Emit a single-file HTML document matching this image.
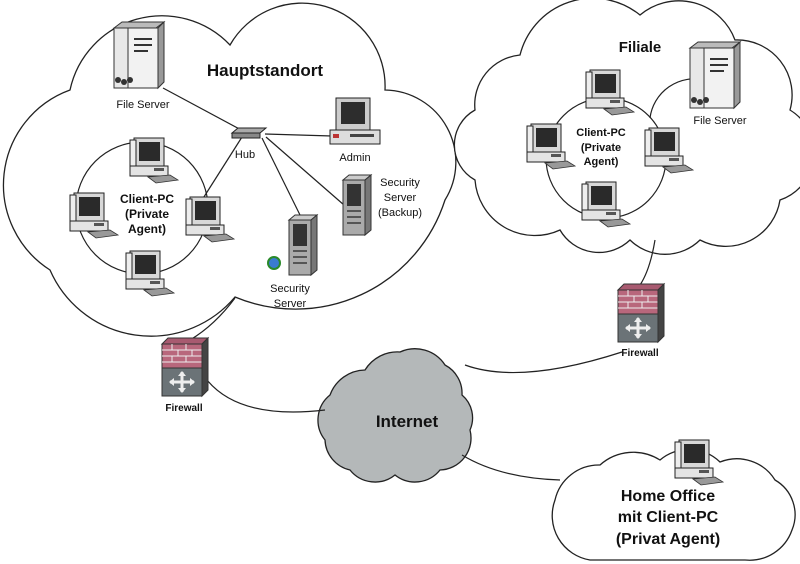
<!DOCTYPE html>
<html><head><meta charset="utf-8"><style>
html,body{margin:0;padding:0;background:#fff}
svg{display:block}
text{font-family:"Liberation Sans",sans-serif;fill:#111}
.b{font-weight:bold}
</style></head><body>
<svg width="800" height="564" viewBox="0 0 800 564" xmlns="http://www.w3.org/2000/svg">
<defs>
<g id="pc">
  <rect x="4" y="0" width="30" height="28" fill="#d8d8d8" stroke="#222" stroke-width="1"/>
  <rect x="0" y="2" width="6" height="26" fill="#eee" stroke="#222" stroke-width="1"/>
  <rect x="9" y="4" width="21" height="19" fill="#2a2a2a"/>
  <rect x="0" y="28" width="38" height="10" fill="#e4e4e4" stroke="#222" stroke-width="1"/>
  <rect x="24" y="30" width="10" height="3" fill="#555"/>
  <polygon points="18,39 40,37 48,42 26,45" fill="#999" stroke="#333" stroke-width="0.8"/>
</g>
<g id="srv">
  <polygon points="0,6 8,0 50,0 42,6" fill="#bbb" stroke="#333" stroke-width="1"/>
  <rect x="0" y="6" width="14" height="60" fill="#e8e8e8" stroke="#333" stroke-width="1"/>
  <rect x="14" y="6" width="30" height="60" fill="#f2f2f2" stroke="#333" stroke-width="1"/>
  <polygon points="44,6 50,0 50,60 44,66" fill="#999" stroke="#333" stroke-width="1"/>
  <rect x="20" y="16" width="18" height="2" fill="#333"/>
  <rect x="20" y="22" width="18" height="2" fill="#333"/>
  <rect x="20" y="28" width="14" height="2" fill="#333"/>
  <circle cx="4" cy="58" r="3" fill="#333"/><circle cx="10" cy="60" r="3" fill="#333"/><circle cx="16" cy="58" r="3" fill="#333"/>
</g>
<g id="tower">
  <polygon points="0,5 6,0 28,0 22,5" fill="#ccc" stroke="#333"/>
  <rect x="0" y="5" width="22" height="55" fill="#aaa" stroke="#333"/>
  <polygon points="22,5 28,0 28,55 22,60" fill="#777" stroke="#333"/>
  <rect x="4" y="9" width="14" height="22" fill="#333"/>
  <rect x="4" y="35" width="14" height="2" fill="#555"/>
  <rect x="4" y="41" width="14" height="2" fill="#555"/>
  <rect x="4" y="47" width="14" height="2" fill="#555"/>
</g>
<g id="fw">
  <polygon points="0,6 6,0 46,0 40,6" fill="#a85a70" stroke="#333"/>
  <rect x="0" y="6" width="40" height="24" fill="#b8677c" stroke="#333"/>
  <path d="M0,12H40M0,18H40M0,24H40M10,6V12M24,6V12M16,12V18M30,12V18M10,18V24M24,18V24" stroke="#eee" stroke-width="1"/>
  <rect x="0" y="30" width="40" height="28" fill="#6b7377" stroke="#333"/>
  <polygon points="40,6 46,0 46,52 40,58" fill="#444" stroke="#333"/>
  <path d="M20,34V54M8,44H32" stroke="#eee" stroke-width="3"/>
  <polygon points="20,33 16,38 24,38" fill="#eee"/><polygon points="20,55 16,50 24,50" fill="#eee"/>
  <polygon points="7,44 12,40 12,48" fill="#eee"/><polygon points="33,44 28,40 28,48" fill="#eee"/>
</g>
</defs>

<g fill="#fff" stroke="#222" stroke-width="1.3">
<path d="M70,90 A94,94 0 0 1 230,45 A83,83 0 0 1 385,90 A72,72 0 0 1 445,200 A157,157 0 0 1 235,297 A110,110 0 0 1 50,270 A101,101 0 0 1 70,90 Z"/>
<path d="M475,110 A50,50 0 0 1 520,55 A75,75 0 0 1 640,15 A60,60 0 0 1 735,40 A55,55 0 0 1 790,110 A50,50 0 0 1 780,200 A55,55 0 0 1 700,240 A50,50 0 0 1 630,240 A45,45 0 0 1 560,230 A60,60 0 0 1 475,180 A40,40 0 0 1 475,110 Z"/>
<path d="M555,500 A45,45 0 0 1 600,465 A50,50 0 0 1 660,460 A45,45 0 0 1 720,462 A45,45 0 0 1 775,480 A40,40 0 0 1 792,530 A45,45 0 0 1 745,560 L590,560 A45,45 0 0 1 555,500 Z"/>
</g>
<path d="M330,395 A38,38 0 0 1 365,370 A38,38 0 0 1 400,352 A36,36 0 0 1 445,365 A32,32 0 0 1 462,395 A30,30 0 0 1 470,430 A32,32 0 0 1 440,470 A32,32 0 0 1 395,475 A32,32 0 0 1 350,470 A32,32 0 0 1 325,440 A32,32 0 0 1 330,395 Z" fill="#b4b8b9" stroke="#222" stroke-width="1.3"/>

<g fill="none" stroke="#222" stroke-width="1.2">
<circle cx="142" cy="208" r="66"/>
<circle cx="606" cy="158" r="60"/>
<path d="M650,118 A45,45 0 0 1 705,80"/>
<path d="M163,88 L245,132"/>
<path d="M265,134 L332,136"/>
<path d="M262,138 L300,215"/>
<path d="M266,137 L344,205"/>
<path d="M242,137 L202,200"/>
<path d="M235,298 Q215,325 190,340"/>
<path d="M207,380 Q240,420 325,410"/>
<path d="M655,240 Q650,270 640,285"/>
<path d="M465,365 Q520,385 622,352"/>
<path d="M462,455 Q500,478 560,480"/>
</g>

<polygon points="232,133 238,128 266,128 260,133" fill="#aaa" stroke="#222"/>
<rect x="232" y="133" width="28" height="5" fill="#888" stroke="#222"/>

<use href="#srv" x="114" y="22"/>
<use href="#pc" x="130" y="138"/>
<use href="#pc" x="70" y="193"/>
<use href="#pc" x="186" y="197"/>
<use href="#pc" x="126" y="251"/>
<g transform="translate(330,98)">
  <rect x="6" y="0" width="34" height="32" fill="#ccc" stroke="#222"/>
  <rect x="11" y="4" width="24" height="22" fill="#2d2d2d"/>
  <rect x="0" y="32" width="50" height="14" fill="#ddd" stroke="#222"/>
  <rect x="3" y="36" width="6" height="4" fill="#b33"/>
  <rect x="20" y="36" width="24" height="3" fill="#444"/>
</g>
<use href="#tower" x="343" y="175"/>
<use href="#tower" x="289" y="215"/>
<circle cx="274" cy="263" r="6" fill="#3a7bd0" stroke="#2a8a2a" stroke-width="2"/>

<use href="#srv" x="690" y="42"/>
<use href="#pc" x="586" y="70"/>
<use href="#pc" x="527" y="124"/>
<use href="#pc" x="645" y="128"/>
<use href="#pc" x="582" y="182"/>
<use href="#fw" x="618" y="284"/>
<use href="#fw" x="162" y="338"/>
<use href="#pc" x="675" y="440"/>

<text x="265" y="76" font-size="17" class="b" text-anchor="middle">Hauptstandort</text>
<text x="143" y="108" font-size="11" text-anchor="middle">File Server</text>
<text x="245" y="158" font-size="11" text-anchor="middle">Hub</text>
<text x="355" y="161" font-size="11" text-anchor="middle">Admin</text>
<text x="400" y="186" font-size="11" text-anchor="middle">Security</text>
<text x="400" y="201" font-size="11" text-anchor="middle">Server</text>
<text x="400" y="216" font-size="11" text-anchor="middle">(Backup)</text>
<text x="290" y="292" font-size="11" text-anchor="middle">Security</text>
<text x="290" y="307" font-size="11" text-anchor="middle">Server</text>
<text x="147" y="203" font-size="12" class="b" text-anchor="middle">Client-PC</text>
<text x="147" y="218" font-size="12" class="b" text-anchor="middle">(Private</text>
<text x="147" y="233" font-size="12" class="b" text-anchor="middle">Agent)</text>

<text x="640" y="52" font-size="15" class="b" text-anchor="middle">Filiale</text>
<text x="720" y="124" font-size="11" text-anchor="middle">File Server</text>
<text x="601" y="136" font-size="11" class="b" text-anchor="middle">Client-PC</text>
<text x="601" y="151" font-size="11" class="b" text-anchor="middle">(Private</text>
<text x="601" y="165" font-size="11" class="b" text-anchor="middle">Agent)</text>

<text x="184" y="411" font-size="10" class="b" text-anchor="middle">Firewall</text>
<text x="640" y="356" font-size="10" class="b" text-anchor="middle">Firewall</text>
<text x="407" y="427" font-size="17" class="b" text-anchor="middle">Internet</text>
<text x="668" y="501" font-size="16" class="b" text-anchor="middle">Home Office</text>
<text x="668" y="522" font-size="16" class="b" text-anchor="middle">mit Client-PC</text>
<text x="668" y="544" font-size="16" class="b" text-anchor="middle">(Privat Agent)</text>
</svg>
</body></html>
